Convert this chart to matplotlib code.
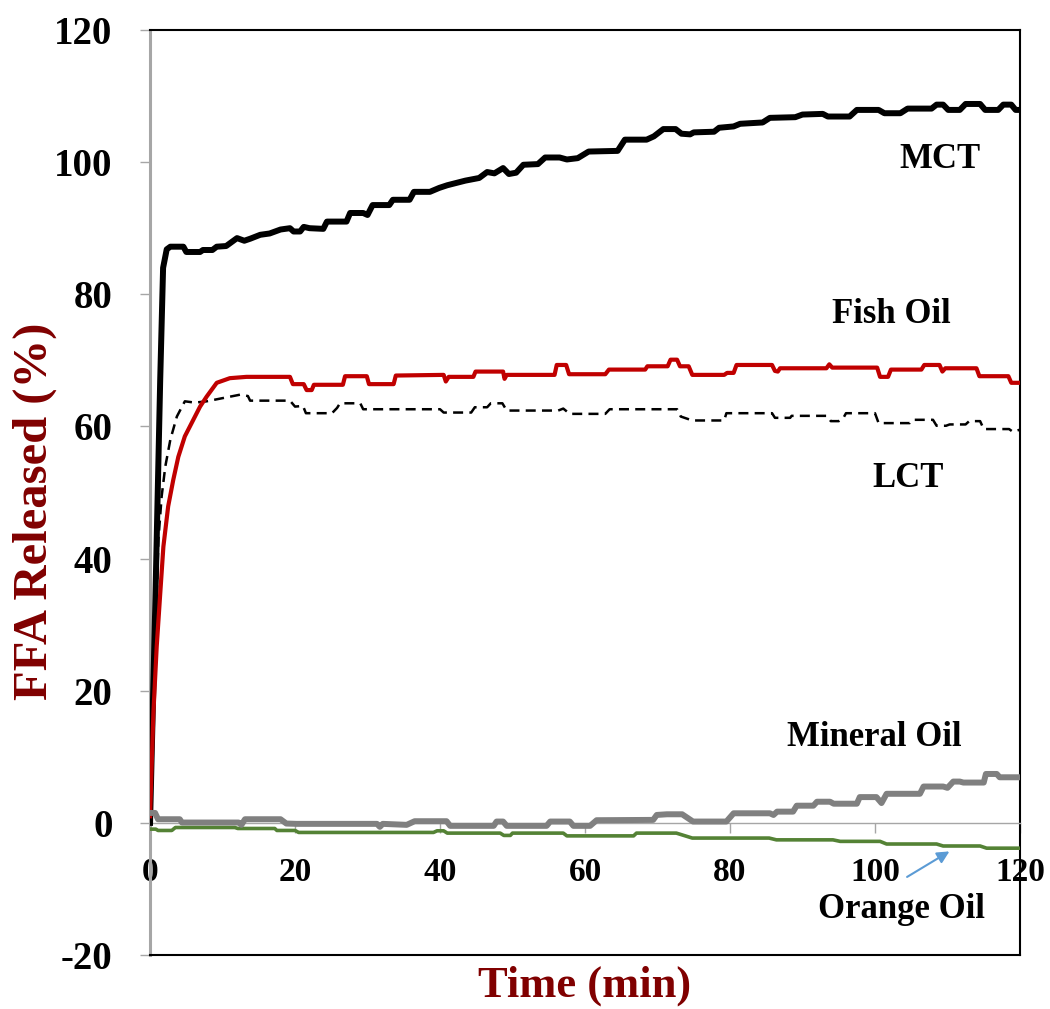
"""
FFA release curves for the five oils - recreated plot.
"""
import matplotlib
matplotlib.use("Agg")
import matplotlib.pyplot as plt

plt.rcParams["font.family"] = ["Liberation Serif", "DejaVu Serif"]
plt.rcParams["font.weight"] = "bold"
plt.rcParams["axes.unicode_minus"] = False

# --- data (time in min, FFA released in %) ---
mct_t = [0, 0.7, 1.4, 1.8, 2.3, 2.8, 4.6, 5.0, 6.9, 7.3, 8.6, 9.2, 10.5, 12, 13, 13.8,
         15.2, 16.5, 18, 19.3, 19.8, 20.7, 21.2, 22.0, 23.9, 24.4, 27.1, 27.6, 29.4,
         30.0, 30.7, 33, 33.5, 35.8, 36.4, 38.6, 39.9, 41, 43.5, 45.4, 46.5, 47.5,
         48.7, 49.5, 50.5, 51.5, 53.5, 54.5, 56.5, 57.5, 59, 60.5, 64.5, 65.5, 68.5,
         69.5, 70.8, 72.5, 73.3, 74.5, 75.0, 77.8, 78.5, 80.5, 81.4, 84.5, 85.5, 89,
         90, 92.8, 93.5, 96.5, 97.5, 100.5, 101.3, 103.5, 104.5, 107.8, 108.5, 109.4,
         110.1, 111.7, 112.5, 114.5, 115.2, 117, 117.7, 118.8, 119.4, 120]
mct_y = [0, 32, 67, 84, 86.8, 87.2, 87.2, 86.4, 86.4, 86.7, 86.7, 87.2, 87.3, 88.5, 88.1, 88.4,
         89.0, 89.2, 89.8, 90.0, 89.5, 89.5, 90.2, 90.0, 89.9, 91.0, 91.0, 92.3, 92.3,
         92.0, 93.5, 93.5, 94.3, 94.3, 95.5, 95.5, 96.1, 96.5, 97.2, 97.6, 98.5, 98.3,
         99.1, 98.2, 98.4, 99.6, 99.7, 100.7, 100.7, 100.4, 100.6, 101.6, 101.7, 103.4, 103.4,
         103.9, 105.0, 105.0, 104.3, 104.2, 104.5, 104.6, 105.2, 105.4, 105.8, 106.0, 106.7, 106.8,
         107.2, 107.3, 106.9, 106.9, 107.9, 107.9, 107.4, 107.4, 108.1, 108.1, 108.7, 108.7,
         107.9, 107.9, 108.8, 108.8, 107.9, 107.9, 108.7, 108.7, 107.9, 107.9]

fish_t = [0, 0.46, 0.92, 1.38, 1.84, 2.5, 3.2, 3.9, 4.8, 5.5, 6.2, 6.9, 7.8, 9.2, 11, 13.3,
          19.3, 19.7, 21.2, 21.6, 22.3, 22.6, 26.6, 26.9, 29.9, 30.2, 33.6, 33.9, 40.5,
          40.8, 41.2, 44.6, 44.9, 48.7, 48.9, 49.2, 55.8, 56.1, 57.4, 57.8, 62.8, 63.3,
          68.3, 68.6, 71.4, 71.8, 72.7, 73.1, 74.3, 74.8, 79.2, 79.6, 80.5, 80.9, 85.8,
          86.2, 86.6, 86.9, 93.3, 93.7, 94.1, 100.3, 100.7, 101.8, 102.2, 106.4, 106.8,
          108.9, 109.3, 109.7, 114.0, 114.4, 118.4, 118.8, 120]
fish_y = [1, 16.6, 26.7, 34.3, 41.8, 47.9, 51.9, 55.4, 58.5, 60, 61.5, 63, 64.5, 66.6, 67.3, 67.5,
          67.5, 66.4, 66.4, 65.5, 65.5, 66.3, 66.3, 67.6, 67.6, 66.4, 66.4, 67.7, 67.8,
          66.8, 67.5, 67.5, 68.3, 68.3, 67.2, 67.8, 67.8, 69.3, 69.3, 67.9, 67.9, 68.6,
          68.6, 69.1, 69.1, 70.1, 70.1, 69.1, 69.1, 67.8, 67.8, 68.1, 68.1, 69.3, 69.3,
          68.4, 68.3, 68.8, 68.8, 69.4, 68.9, 68.9, 67.5, 67.5, 68.6, 68.6, 69.3,
          69.3, 68.3, 68.8, 68.8, 67.6, 67.6, 66.6, 66.6]

lct_t = [0, 0.5, 1.15, 1.6, 2.1, 2.8, 3.7, 4.8, 6.2, 7.8, 10.1, 12.4, 13.5, 13.8, 19.3, 20,
         21.1, 21.5, 25.1, 25.8, 26.2, 29, 29.4, 40, 40.5, 44.3, 44.8, 46.5, 47, 48.6,
         49.2, 56.3, 57, 57.9, 62.8, 63.4, 72.7, 73.2, 74.8, 79.2, 79.5, 85.8, 86.2,
         88.3, 88.5, 93.4, 93.9, 95, 95.6, 96, 100, 100.5, 104.8, 105.2, 108, 108.5,
         109.8, 110.3, 112.5, 113, 114.5, 115, 118.5, 119, 120]
lct_y = [0, 19, 42.8, 49.4, 53.9, 58, 61.5, 63.8, 63.6, 63.8, 64.3, 64.8, 64.6, 63.9, 63.9, 63.0,
         63.1, 62.0, 62.0, 62.8, 63.5, 63.5, 62.6, 62.6, 62.1, 62.1, 62.9, 62.9, 63.5, 63.5,
         62.4, 62.4, 62.7, 61.9, 61.9, 62.6, 62.6, 61.5, 60.9, 60.9, 62.0, 62.0, 61.3,
         61.3, 61.6, 61.6, 60.8, 60.8, 61.2, 62.0, 62.0, 60.5, 60.5, 61.0, 61.0, 60.1,
         60.1, 60.3, 60.3, 60.8, 60.8, 59.6, 59.6, 59.2, 59.5]

mineral_t = [0, 0.7, 1.1, 4.1, 4.4, 12.2, 12.6, 13.1, 18, 18.8, 20.2, 31.3, 31.7, 32.1, 35.4,
             36.5, 40.9, 41.4, 47.4, 47.8, 48.7, 49.2, 54.7, 55.2, 57.9, 58.4, 60.7, 61.6,
             69.4, 69.9, 71.3, 73.4, 74.9, 79.5, 80.5, 85.5, 86, 86.5, 88.7, 89.2, 91.5,
             92, 93.8, 94.3, 97.5, 97.9, 100.2, 100.9, 101.6, 106.2, 106.7, 109.4, 110,
             110.8, 111.7, 112.2, 115, 115.3, 116.8, 117.2, 120]
mineral_y = [1.5, 1.5, 0.55, 0.55, 0.05, 0.05, -0.3, 0.55, 0.55, -0.1, -0.15, -0.15, -0.6, -0.15, -0.3,
             0.25, 0.25, -0.45, -0.45, 0.2, 0.2, -0.45, -0.45, 0.2, 0.2, -0.45, -0.45, 0.4,
             0.45, 1.2, 1.3, 1.3, 0.2, 0.2, 1.45, 1.45, 1.2, 1.7, 1.7, 2.6, 2.6,
             3.2, 3.2, 2.9, 2.9, 3.9, 3.9, 3.0, 4.4, 4.4, 5.5, 5.5, 5.3,
             6.25, 6.25, 6.1, 6.1, 7.4, 7.4, 6.9, 6.9]

orange_t = [0, 0.8, 1.1, 3, 3.5, 11.7, 12.1, 17.2, 17.5, 20, 20.5, 39.1, 39.6, 40.5, 41, 48.3,
            48.8, 49.7, 50, 57, 57.5, 66.7, 67.1, 72.6, 74.8, 85.4, 86.4, 94.2, 95.2, 100.7,
            101.6, 108.5, 109.4, 114.5, 115.4, 120]
orange_y = [-0.95, -0.95, -1.15, -1.15, -0.7, -0.7, -0.85, -0.85, -1.15, -1.15, -1.45, -1.45, -1.2, -1.2,
            -1.55, -1.55, -1.9, -1.9, -1.55, -1.55, -1.97, -1.97, -1.55, -1.55, -2.3, -2.3, -2.57,
            -2.57, -2.8, -2.8, -3.2, -3.2, -3.5, -3.5, -3.83, -3.83]

x_ticks = [0, 20, 40, 60, 80, 100, 120]
y_ticks = [-20, 0, 20, 40, 60, 80, 100, 120]

label_color = "#800000"

fig = plt.figure(figsize=(10.5, 10.09), dpi=100)
ax = fig.add_axes([0.1429, 0.0535, 0.8285, 0.9168])

ax.plot(mct_t, mct_y, color="black", lw=4.3, solid_joinstyle="round", zorder=3)
ax.plot(lct_t, lct_y, color="black", lw=1.8, ls=(0, (4, 2.5)), zorder=3)
ax.plot(fish_t, fish_y, color="#C00000", lw=3.0, solid_joinstyle="round", zorder=4)
ax.plot(orange_t, orange_y, color="#548235", lw=2.6, solid_joinstyle="round", zorder=4)
ax.plot(mineral_t, mineral_y, color="#808080", lw=4.3, solid_joinstyle="round", zorder=5)

ax.set_xlim(0, 120)
ax.set_ylim(-20, 120)
ax.set_xticks(x_ticks)
ax.set_yticks(y_ticks)

# x axis crosses at y = 0, box stays around the plot area
ax.spines["bottom"].set_position(("data", 0))
ax.spines["bottom"].set_color("#A6A6A6")
ax.spines["bottom"].set_linewidth(1.0)
ax.spines["left"].set_color("#A6A6A6")
ax.spines["left"].set_linewidth(2.2)
for s in ["top", "right"]:
    ax.spines[s].set_color("black")
    ax.spines[s].set_linewidth(1.5)
ax.axhline(-20, color="black", lw=1.5, clip_on=False, zorder=6)

ax.tick_params(axis="x", direction="out", length=7, width=1, color="#A6A6A6",
               pad=17.5, labelsize=24)
ax.tick_params(axis="y", direction="out", length=7, width=1, color="#A6A6A6",
               pad=20, labelsize=28)
for lab in ax.get_xticklabels() + ax.get_yticklabels():
    lab.set_fontweight("bold")

ax.set_xlabel("Time (min)", fontsize=32, fontweight="bold", color=label_color, va="center")
ax.xaxis.set_label_coords(0.5, -0.033)
ax.set_ylabel("FFA Released (%)", fontsize=35, fontweight="bold", color=label_color, va="center")
ax.yaxis.set_label_coords(-0.132, 0.48)

# curve names
txt = dict(fontsize=25, fontweight="bold", ha="center", va="baseline")
ax.text(109.0, 99.1, "MCT", **txt)
ax.text(102.2, 75.6, "Fish Oil", **txt)
ax.text(104.6, 50.9, "LCT", **txt)
ax.text(99.9, 11.7, "Mineral Oil", **txt)
ax.text(103.6, -14.4, "Orange Oil", **txt)
ax.annotate("", xy=(110.6, -4.1), xytext=(104.1, -8.4),
            arrowprops=dict(arrowstyle="-|>", color="#5B9BD5", lw=1.5, mutation_scale=18))

fig.savefig("out.png", dpi=100)
